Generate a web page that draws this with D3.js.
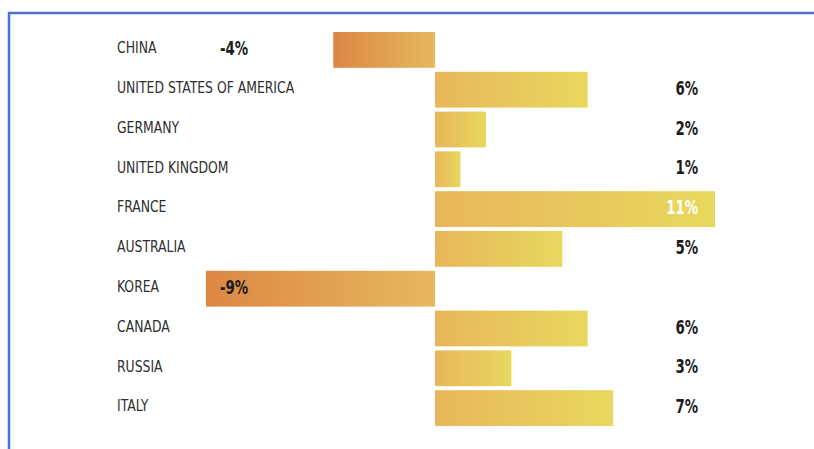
<!DOCTYPE html>
<html>
<head>
<meta charset="utf-8">
<script src="https://cdn.jsdelivr.net/npm/d3@7"></script>
<style>
  html, body { margin: 0; padding: 0; background: #fff; }
  svg { display: block; }
</style>
</head>
<body>
<script>
// Year-on-year change by country, in percent
const countries = ["CHINA", "UNITED STATES OF AMERICA", "GERMANY", "UNITED KINGDOM", "FRANCE",
                   "AUSTRALIA", "KOREA", "CANADA", "RUSSIA", "ITALY"];
const changes = [-4, 6, 2, 1, 11, 5, -9, 6, 3, 7];
const valueLabels = ["-4%", "6%", "2%", "1%", "11%", "5%", "-9%", "6%", "3%", "7%"];

const W = 814, H = 449;
const rows = countries.map((c, i) => ({ country: c, value: changes[i], label: valueLabels[i] }));

const svg = d3.select("body").append("svg").attr("width", W).attr("height", H);

// Per-bar gradients: orange for declines, amber to yellow for growth
const defs = svg.append("defs");
const gNeg = defs.append("linearGradient").attr("id", "gradNeg");
gNeg.append("stop").attr("offset", "0%").attr("stop-color", "#dc8744");
gNeg.append("stop").attr("offset", "100%").attr("stop-color", "#e6b85e");
const gPos = defs.append("linearGradient").attr("id", "gradPos");
gPos.append("stop").attr("offset", "0%").attr("stop-color", "#e8b65a");
gPos.append("stop").attr("offset", "100%").attr("stop-color", "#e8d85e");

// Frame lines (top and left)
svg.append("line").attr("x1", 8).attr("x2", W).attr("y1", 13).attr("y2", 13)
  .attr("stroke", "#4a74c6").attr("stroke-width", 2.5);
svg.append("line").attr("x1", 9).attr("x2", 9).attr("y1", 12).attr("y2", H)
  .attr("stroke", "#4a74c6").attr("stroke-width", 2.5);

const x = d3.scaleLinear().domain([-9, 11]).range([206, 715]);
const y = d3.scaleBand().domain(countries).range([30, 428]).paddingInner(0.1).paddingOuter(0.05);

const nameFont = "'Liberation Sans Narrow', 'DejaVu Sans Condensed', 'Arial Narrow', sans-serif";

// Bars
svg.append("g").selectAll("rect").data(rows).join("rect")
  .attr("x", d => x(Math.min(0, d.value)))
  .attr("width", d => Math.abs(x(d.value) - x(0)))
  .attr("y", d => y(d.country))
  .attr("height", y.bandwidth())
  .attr("fill", d => d.value < 0 ? "url(#gradNeg)" : "url(#gradPos)");

// Country names (horizontally compressed type)
svg.append("g").selectAll("text").data(rows).join("text")
  .attr("transform", d => `translate(117,${y(d.country) + y.bandwidth() / 2 - 2.5}) scale(0.89,1)`)
  .attr("dominant-baseline", "central")
  .attr("font-family", nameFont)
  .attr("font-size", 15.5)
  .attr("fill", "#2e2e2e")
  .text(d => d.country);

// Value labels (bold, condensed)
svg.append("g").selectAll("text").data(rows).join("text")
  .attr("transform", d => `translate(${d.value < 0 ? 234 : 698},${y(d.country) + y.bandwidth() / 2 - 1.5}) scale(0.78,1)`)
  .attr("text-anchor", d => d.value < 0 ? "middle" : "end")
  .attr("dominant-baseline", "central")
  .attr("font-family", nameFont)
  .attr("font-weight", "bold")
  .attr("font-size", 19)
  .attr("fill", d => x(d.value) > 698 ? "#ffffff" : "#1c1c1c")
  .text(d => d.label);
</script>
</body>
</html>
